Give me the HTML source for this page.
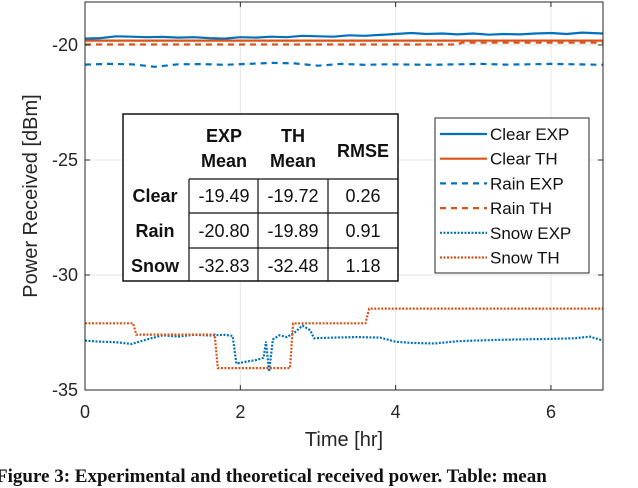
<!DOCTYPE html>
<html><head><meta charset="utf-8"><style>
body{margin:0;background:#fff;width:638px;height:476px;overflow:hidden;position:relative;font-family:"Liberation Sans",sans-serif}
svg{position:absolute;left:0;top:0}
#cap{position:absolute;left:-4px;top:466px;white-space:nowrap;font:bold 19px "Liberation Serif",serif;color:#111}
</style></head><body>
<svg id="chart" width="638" height="476" viewBox="0 0 638 476"></svg>
<div id="cap">Figure 3: Experimental and theoretical received power. Table: mean</div>
<script>
const xTicks=[0,2,4,6];
const yTicks=[-20,-25,-30,-35];
const clearExpT=[0,0.2,0.4,0.6,0.8,1,1.2,1.4,1.6,1.8,2,2.2,2.4,2.6,2.8,3,3.2,3.4,3.6,3.8,4,4.2,4.4,4.6,4.8,5,5.2,5.4,5.6,5.8,6,6.2,6.4,6.67];
const clearExpV=[-19.72,-19.7,-19.62,-19.64,-19.66,-19.65,-19.68,-19.66,-19.7,-19.72,-19.66,-19.68,-19.64,-19.66,-19.6,-19.62,-19.64,-19.58,-19.6,-19.56,-19.52,-19.48,-19.52,-19.5,-19.54,-19.5,-19.55,-19.52,-19.54,-19.5,-19.48,-19.52,-19.46,-19.5];
const clearThV=-19.81;
const rainExpT=[0,0.3,0.6,0.9,1.2,1.5,1.8,2.1,2.4,2.7,3,3.3,3.6,3.9,4.2,4.5,4.8,5.1,5.4,5.7,6,6.3,6.67];
const rainExpV=[-20.85,-20.82,-20.84,-20.95,-20.84,-20.83,-20.86,-20.82,-20.78,-20.8,-20.9,-20.82,-20.86,-20.84,-20.85,-20.86,-20.84,-20.82,-20.85,-20.84,-20.82,-20.84,-20.86];
const rainThT=[0,4.8,4.85,6.67];
const rainThV=[-19.98,-19.98,-19.9,-19.9];
const snowExpT=[0,0.2,0.4,0.6,0.8,1,1.2,1.4,1.6,1.8,1.9,1.95,2.1,2.2,2.3,2.33,2.37,2.42,2.5,2.6,2.7,2.8,2.9,2.95,3.2,3.5,3.8,4.0,4.2,4.5,4.8,5.0,5.3,5.6,6,6.3,6.5,6.67];
const snowExpV=[-32.85,-32.9,-32.92,-33.0,-32.8,-32.62,-32.68,-32.6,-32.63,-32.6,-32.65,-33.85,-33.75,-33.7,-33.6,-32.9,-34.2,-32.8,-32.62,-32.7,-32.5,-32.2,-32.4,-32.75,-32.72,-32.7,-32.72,-32.9,-32.95,-32.98,-32.88,-32.85,-32.82,-32.8,-32.78,-32.75,-32.68,-32.85];
const snowThT=[0,0.62,0.66,1.67,1.71,2.64,2.68,3.61,3.66,6.67];
const snowThV=[-32.1,-32.1,-32.59,-32.59,-34.05,-34.05,-32.1,-32.1,-31.46,-31.46];

const L=85,R=603,T=2,B=390;
const X=t=>L+t*(R-L)/6.67;
const Y=v=>45+(-20-v)*23;
const NS="http://www.w3.org/2000/svg";
const svg=document.getElementById('chart');
function mk(tag,attrs,parent){const e=document.createElementNS(NS,tag);for(const k in attrs)e.setAttribute(k,attrs[k]);(parent||svg).appendChild(e);return e;}
const BLUE="#0072bd",RED="#d95319";
xTicks.forEach(t=>{const g=mk('line',{x1:X(t),x2:X(t),y1:T,y2:B,stroke:'#e6e6e6','stroke-width':1});

});
yTicks.forEach(v=>{const g=mk('line',{x1:L,x2:R,y1:Y(v),y2:Y(v),stroke:'#e6e6e6','stroke-width':1});

});
function series(ts,vs,color,dash,name){
  const d=ts.map((t,i)=>(i?'L':'M')+X(t).toFixed(1)+','+Y(vs[i]).toFixed(1)).join(' ');
  const p=mk('path',{d:d,fill:'none',stroke:color,'stroke-width':2.2,'stroke-dasharray':dash});
  
  
}
series(clearExpT,clearExpV,BLUE,'none','clear-exp-line');
series([0,6.67],[clearThV,clearThV],RED,'none','clear-th-line');
series(rainExpT,rainExpV,BLUE,'6 5','rain-exp-line');
series(rainThT,rainThV,RED,'6 5','rain-th-line');
series(snowExpT,snowExpV,BLUE,'2 1.5','snow-exp-line');
series(snowThT,snowThV,RED,'2 1.5','snow-th-line');
const box=mk('rect',{x:L,y:T,width:R-L,height:B-T,fill:'none',stroke:'#262626','stroke-width':1});


xTicks.forEach(t=>{
  mk('line',{x1:X(t),x2:X(t),y1:B,y2:B-5,stroke:'#262626'});
  mk('line',{x1:X(t),x2:X(t),y1:T,y2:T+5,stroke:'#262626'});
  const tx=mk('text',{x:X(t),y:418,'text-anchor':'middle','font-size':18,fill:'#262626'});tx.textContent=t;
  
  
});
yTicks.forEach(v=>{
  mk('line',{x1:L,x2:L+5,y1:Y(v),y2:Y(v),stroke:'#262626'});
  mk('line',{x1:R,x2:R-5,y1:Y(v),y2:Y(v),stroke:'#262626'});
  const tx=mk('text',{x:78,y:Y(v)+6,'text-anchor':'end','font-size':18,fill:'#262626'});tx.textContent=v;
  
  
});
const xt=mk('text',{x:344,y:446,'text-anchor':'middle','font-size':20,fill:'#262626'});xt.textContent='Time [hr]';


const yt=mk('text',{x:0,y:0,'text-anchor':'middle','font-size':20,fill:'#262626',transform:'translate(37,196) rotate(-90)'});yt.textContent='Power Received [dBm]';


const lg=mk('g',{});


mk('rect',{x:435,y:118,width:154,height:155,fill:'#fff',stroke:'#262626','stroke-width':1},lg);
const legNames=['Clear EXP','Clear TH','Rain EXP','Rain TH','Snow EXP','Snow TH'];
const legCol=[BLUE,RED,BLUE,RED,BLUE,RED];
const legDash=['none','none','6 5','6 5','2 1.5','2 1.5'];
legNames.forEach((n,i)=>{const y=134+i*24.7;
  const e=mk('g',{},lg);
  
  
  mk('line',{x1:440,x2:487,y1:y,y2:y,stroke:legCol[i],'stroke-width':2.2,'stroke-dasharray':legDash[i]},e);
  const t=mk('text',{x:490,y:y+6,'font-size':17,fill:'#111'},e);t.textContent=n;});
const tb=mk('g',{});


mk('rect',{x:123,y:114,width:275,height:167,fill:'#fff',stroke:'#111','stroke-width':1.5},tb);
[189,258,328].forEach(x=>mk('line',{x1:x,x2:x,y1:179,y2:281,stroke:'#111','stroke-width':1.2},tb));
[179,213,248].forEach(y=>mk('line',{x1:189,x2:398,y1:y,y2:y,stroke:'#111','stroke-width':1.2},tb));
function tt(x,y,s,bold){const t=mk('text',{x:x,y:y,'text-anchor':'middle','font-size':18,'font-weight':bold?'bold':'normal',fill:'#111'},tb);t.textContent=s;}
tt(224,142,'EXP',1);tt(224,167,'Mean',1);tt(293,142,'TH',1);tt(293,167,'Mean',1);tt(363,157,'RMSE',1);
const rows=['Clear','Rain','Snow'],expM=['-19.49','-20.80','-32.83'],thM=['-19.72','-19.89','-32.48'],rm=['0.26','0.91','1.18'];
rows.forEach((r,i)=>{const y=202+i*35;tt(155,y,r,1);tt(224,y,expM[i]);tt(293,y,thM[i]);tt(363,y,rm[i]);});
</script>
</body></html>
